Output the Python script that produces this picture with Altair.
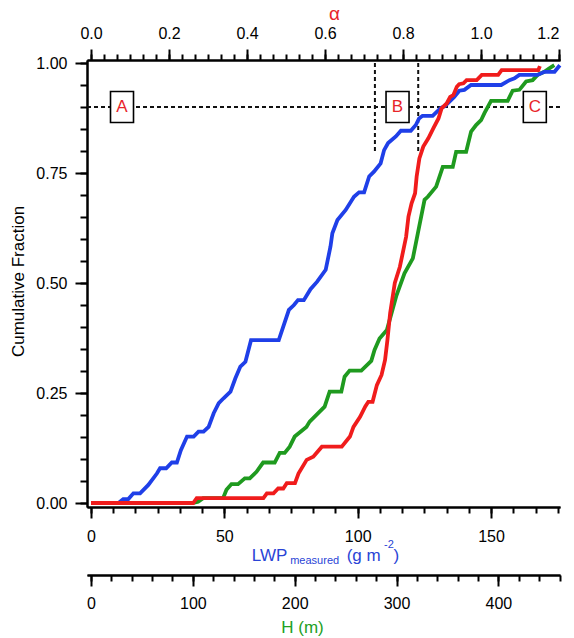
import altair as alt
import pandas as pd

# ---------------- data ----------------
blue_lwp = [0, 10.3, 12.1, 14.0, 15.9, 18.4, 21.5, 24.7, 25.9, 28.2, 30.3, 32.2, 33.7, 36.0, 38.5,
            40.3, 42.2, 44.1, 46.0, 47.9, 49.7, 52.3, 54.1, 56.0, 57.9, 60.0, 70.4, 74.2, 76.1, 77.6,
            79.8, 82.3, 84.8, 88.0, 89.8, 90.5, 92.4, 95.5, 98.6, 100.5, 102.4, 104.3, 106.1, 108.6,
            109.9, 111.4, 114.3, 116.2, 119.9, 121.8, 123.0, 124.3, 128.1, 131.2, 132.7, 136.2,
            138.1, 140.0, 142.5, 153.8, 156.9, 158.8, 160.6, 167.5, 170.0, 173.8, 175.8]
blue_f = [0, 0, 0.009, 0.009, 0.022, 0.022, 0.041, 0.067, 0.079, 0.079, 0.092, 0.092, 0.12, 0.151, 0.151,
          0.162, 0.162, 0.173, 0.204, 0.227, 0.238, 0.253, 0.283, 0.31, 0.321, 0.37, 0.37, 0.439, 0.45, 0.461,
          0.461, 0.486, 0.503, 0.53, 0.583, 0.613, 0.643, 0.666, 0.696, 0.706, 0.706, 0.742, 0.753, 0.772,
          0.802, 0.818, 0.833, 0.846, 0.846, 0.859, 0.874, 0.88, 0.88, 0.898, 0.902, 0.923,
          0.937, 0.939, 0.95, 0.95, 0.961, 0.965, 0.973, 0.973, 0.98, 0.98, 0.995]

red_alpha = [0, 0.262, 0.271, 0.442, 0.451, 0.468, 0.480, 0.493, 0.502, 0.523, 0.532, 0.553, 0.570,
             0.592, 0.643, 0.664, 0.673, 0.690, 0.703, 0.711, 0.722, 0.733, 0.745, 0.754, 0.760, 0.767,
             0.779, 0.792, 0.808, 0.814, 0.822, 0.831, 0.835, 0.842, 0.852, 0.865, 0.878, 0.891, 0.899,
             0.912, 0.921, 0.929, 0.938, 0.944, 0.955, 0.963, 0.989, 1.002, 1.044, 1.053, 1.147, 1.151]
red_f = [0, 0, 0.011, 0.011, 0.022, 0.022, 0.033, 0.033, 0.045, 0.045, 0.067, 0.098, 0.105,
         0.128, 0.128, 0.151, 0.173, 0.196, 0.219, 0.230, 0.230, 0.268, 0.291, 0.325, 0.370, 0.431,
         0.500, 0.537, 0.605, 0.651, 0.681, 0.704, 0.742, 0.783, 0.810, 0.829, 0.852, 0.874, 0.897,
         0.908, 0.923, 0.927, 0.946, 0.952, 0.954, 0.961, 0.961, 0.973, 0.973, 0.984, 0.984, 0.993]

green_h = [100.3, 105.2, 110.1, 129.7, 133.0, 137.9, 144.4, 151.0, 155.9, 162.5, 169.0, 180.4, 185.3,
           190.2, 195.1, 200.0, 211.5, 214.7, 229.4, 234.3, 245.8, 249.0, 253.9, 265.4, 275.2, 278.4,
           283.3, 290.5, 299.7, 307.8, 316.0, 320.9, 327.5, 330.7, 338.9, 345.4, 355.2, 358.5, 368.3,
           373.2, 378.1, 383.0, 386.3, 392.8, 409.1, 414.0, 420.6, 427.2, 433.6, 438.5, 445.1, 450.0, 454.9]
green_f = [0, 0.003, 0.011, 0.011, 0.03, 0.043, 0.043, 0.056, 0.056, 0.071, 0.092, 0.092, 0.114,
           0.114, 0.128, 0.151, 0.173, 0.185, 0.219, 0.253, 0.253, 0.287, 0.301, 0.301, 0.323, 0.348,
           0.374, 0.393, 0.47, 0.522, 0.556, 0.613, 0.689, 0.696, 0.719, 0.764, 0.764, 0.798, 0.798,
           0.844, 0.859, 0.870, 0.886, 0.914, 0.914, 0.937, 0.939, 0.958, 0.961, 0.973, 0.980, 0.988, 0.995]

box_labels = ["A", "B", "C"]
box_alpha = [0.0795, 0.786, 1.138]
box_f = [0.9, 0.9, 0.9]
vline_alpha = [0.728, 0.839]
vline_f = [0.8, 1.0]
hline_f = 0.9

y_major = [0, 0.25, 0.5, 0.75, 1.0]
y_minor = [round(i * 0.05, 2) for i in range(21)]
a_major = [0, 0.2, 0.4, 0.6, 0.8, 1.0, 1.2]
a_minor = [i / 30 for i in range(37)]
l_major = [0, 50, 100, 150]
l_minor = [i * 50 / 6 for i in range(22)]
h_major = [0, 100, 200, 300, 400]
h_minor = [i * 20 for i in range(24)]

# ---------------- style ----------------
FONT = "Liberation Sans"
BLUE = "#1f3fe8"
RED = "#f01c1c"
GREEN = "#1f9a1f"
BLUE_T = "#2a44d6"
RED_T = "#e8242a"
GREEN_T = "#22a022"
LW = 3.8

W, H = 473, 447
Y_DOM = [-4 / 440, 443 / 440]
A_DOM = [-4 / 390, 469 / 390]
L_DOM = [-4 / 2.667, 469 / 2.667]
H_PX = 468.5 / 460
H_DOM = [-4 / H_PX, 469 / H_PX]

blue_df = pd.DataFrame({"lwp": blue_lwp, "f": blue_f})
red_df = pd.DataFrame({"alpha": red_alpha, "f": red_f})
green_df = pd.DataFrame({"h": green_h, "f": green_f})
box_df = pd.DataFrame({"lab": box_labels, "a": box_alpha, "f": box_f})
box_df["a1"] = box_df["a"] - 11.5 / 390
box_df["a2"] = box_df["a"] + 11.5 / 390
box_df["f1"] = box_df["f"] - 15.5 / 440
box_df["f2"] = box_df["f"] + 15.5 / 440
vl_df = pd.DataFrame({"a": vline_alpha, "f1": [vline_f[0]] * 2, "f2": [vline_f[1]] * 2})
hl_df = pd.DataFrame({"a1": [A_DOM[0]], "a2": [A_DOM[1]], "f": [hline_f]})
one_df = pd.DataFrame({"k": [0]})

AX = dict(domainColor="black", domainWidth=2, tickColor="black", tickWidth=2,
          labelFont=FONT, labelFontSize=16, labelColor="black", grid=False)


def ysc():
    return alt.Scale(domain=Y_DOM, nice=False, zero=False)


def sc(d):
    return alt.Scale(domain=d, nice=False, zero=False)


def yax(**kw):
    return alt.Axis(orient="left", **AX, **kw)


no_y = alt.Y("f:Q", scale=ysc(), axis=None)

# minor-tick axes (invisible marks)
minor_y = alt.Chart(blue_df).mark_point(opacity=0).encode(
    x=alt.X("lwp:Q", scale=sc(L_DOM), axis=alt.Axis(orient="bottom", values=l_minor, tickSize=6,
                                                    labels=False, title=None, **AX)),
    y=alt.Y("f:Q", scale=ysc(), axis=yax(values=y_minor, tickSize=7, labels=False, title=None)),
)
minor_a = alt.Chart(red_df).mark_point(opacity=0).encode(
    x=alt.X("alpha:Q", scale=sc(A_DOM), axis=alt.Axis(orient="top", values=a_minor, tickSize=6,
                                                      labels=False, title=None, **AX)),
    y=no_y,
)
minor_h = alt.Chart(green_df).mark_point(opacity=0).encode(
    x=alt.X("h:Q", scale=sc(H_DOM), axis=alt.Axis(orient="bottom", offset=68, values=h_minor, tickSize=6,
                                                  labels=False, title=None, **AX)),
    y=no_y,
)

# annotations
hline = alt.Chart(hl_df).mark_rule(color="#111111", strokeWidth=2, strokeDash=[4, 3]).encode(
    x=alt.X("a1:Q", scale=sc(A_DOM), axis=None), x2="a2:Q", y=no_y)
vlines = alt.Chart(vl_df).mark_rule(color="#111111", strokeWidth=2, strokeDash=[4, 3]).encode(
    x=alt.X("a:Q", scale=sc(A_DOM), axis=None), y=alt.Y("f1:Q", scale=ysc(), axis=None), y2="f2:Q")
boxes = alt.Chart(box_df).mark_rect(fill="white", stroke="black", strokeWidth=1.6).encode(
    x=alt.X("a1:Q", scale=sc(A_DOM), axis=None), x2="a2:Q",
    y=alt.Y("f1:Q", scale=ysc(), axis=None), y2="f2:Q")
letters = alt.Chart(box_df).mark_text(font=FONT, fontSize=17, color=RED_T, baseline="middle",
                                      align="center").encode(
    x=alt.X("a:Q", scale=sc(A_DOM), axis=None), y=no_y, text="lab:N")

# curves with major axes
green = alt.Chart(green_df).mark_line(color=GREEN, strokeWidth=LW).encode(
    x=alt.X("h:Q", scale=sc(H_DOM), axis=alt.Axis(
        orient="bottom", offset=68, values=h_major, format="d", tickSize=11, labelPadding=9,
        title="H (m)", titleFont=FONT, titleFontSize=17, titleFontWeight="normal", titleColor=GREEN_T,
        titleX=215, titleY=57, titleAlign="center", titleBaseline="alphabetic", **AX)),
    y=no_y,
)
blue = alt.Chart(blue_df).mark_line(color=BLUE, strokeWidth=LW).encode(
    x=alt.X("lwp:Q", scale=sc(L_DOM), axis=alt.Axis(
        orient="bottom", values=l_major, format="d", tickSize=11, labelPadding=10, title=None, **AX)),
    y=alt.Y("f:Q", scale=ysc(), axis=yax(
        values=y_major, format=".2f", tickSize=12, labelPadding=8,
        title="Cumulative Fraction", titleFont=FONT, titleFontSize=17, titleFontWeight="normal",
        titleColor="black", titleX=-64, titleY=221, titleAlign="center", titleBaseline="alphabetic",
        titleAngle=270)),
)
red = alt.Chart(red_df).mark_line(color=RED, strokeWidth=LW).encode(
    x=alt.X("alpha:Q", scale=sc(A_DOM), axis=alt.Axis(
        orient="top", values=a_major, format=".1f", tickSize=11, labelPadding=8,
        title="α", titleFont=FONT, titleFontSize=19, titleFontWeight="normal", titleColor=RED_T,
        titleX=247, titleY=-41, titleAlign="center", titleBaseline="alphabetic", **AX)),
    y=no_y,
)


# composite LWP title (with subscript / superscript), one text per piece
def piece(txt, x, y, size):
    return alt.Chart(one_df).mark_text(text=txt, font=FONT, fontSize=size, color=BLUE_T,
                                       align="left", baseline="alphabetic").encode(
        x=alt.value(x), y=alt.value(y))


t1 = piece("LWP", 164.7, 501, 17)
t2 = piece("measured", 203.2, 504, 11)
t3 = piece("(g m", 259.7, 501, 17)
t4 = piece("-2", 297, 488, 11)
t5 = piece(")", 306.5, 501, 17)

chart = alt.layer(
    minor_y, minor_a, minor_h, hline, vlines, boxes, letters, green, blue, red, t1, t2, t3, t4, t5
).resolve_scale(x="independent", y="independent").properties(
    width=W, height=H,
    autosize=alt.AutoSizeParams(type="none"),
    padding={"left": 87, "top": 60, "right": 14, "bottom": 131},
).configure_view(strokeWidth=0)

chart.save("out.html", embed_options={"renderer": "svg", "actions": False})
